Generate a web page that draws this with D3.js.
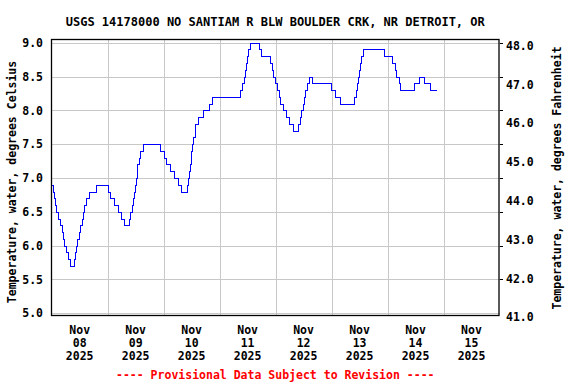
<!DOCTYPE html>
<html>
<head>
<meta charset="utf-8">
<script src="https://cdn.jsdelivr.net/npm/d3@7"></script>
<style>
  html, body { margin: 0; padding: 0; background: #fff; }
  svg { display: block; }
  text { font-family: "DejaVu Sans Mono", "Liberation Mono", monospace; font-weight: bold; }
</style>
</head>
<body>
<svg id="chart" width="576" height="384"></svg>
<script>
// ---- data ----
const titleText = "USGS 14178000 NO SANTIAM R BLW BOULDER CRK, NR DETROIT, OR";
const footerText = "---- Provisional Data Subject to Revision ----";
const leftAxisTitle = "Temperature, water, degrees Celsius";
const rightAxisTitle = "Temperature, water, degrees Fahrenheit";

// times at which the stepped reading changes, and the value held from then on
const obsTime = [
"2025-11-08 00:00","2025-11-08 00:45","2025-11-08 01:15","2025-11-08 01:30","2025-11-08 02:15","2025-11-08 03:00","2025-11-08 03:45","2025-11-08 04:30","2025-11-08 05:00","2025-11-08 05:30","2025-11-08 06:15","2025-11-08 07:00","2025-11-08 08:00","2025-11-08 09:45","2025-11-08 10:00","2025-11-08 10:45","2025-11-08 11:15","2025-11-08 11:45","2025-11-08 12:30","2025-11-08 13:00","2025-11-08 13:30","2025-11-08 14:15","2025-11-08 14:45","2025-11-08 16:00","2025-11-08 19:15",
"2025-11-09 00:15","2025-11-09 01:15","2025-11-09 03:00","2025-11-09 04:30","2025-11-09 05:45","2025-11-09 07:00","2025-11-09 09:15","2025-11-09 10:00","2025-11-09 10:30","2025-11-09 11:00","2025-11-09 11:30","2025-11-09 11:45","2025-11-09 12:15","2025-11-09 12:45","2025-11-09 13:00","2025-11-09 13:30","2025-11-09 14:15","2025-11-09 15:30","2025-11-09 22:45",
"2025-11-10 00:30","2025-11-10 01:15","2025-11-10 03:00","2025-11-10 04:30","2025-11-10 06:15","2025-11-10 07:45","2025-11-10 10:15","2025-11-10 10:45","2025-11-10 11:15","2025-11-10 11:30","2025-11-10 11:45","2025-11-10 12:00","2025-11-10 12:30","2025-11-10 13:00","2025-11-10 13:30","2025-11-10 13:45","2025-11-10 14:45","2025-11-10 17:00","2025-11-10 19:30","2025-11-10 20:45",
"2025-11-11 08:45","2025-11-11 09:45","2025-11-11 10:30","2025-11-11 11:15","2025-11-11 11:30","2025-11-11 12:00","2025-11-11 12:30","2025-11-11 13:15","2025-11-11 17:00","2025-11-11 17:45","2025-11-11 21:45","2025-11-11 22:30","2025-11-11 23:15","2025-11-11 23:45",
"2025-11-12 00:45","2025-11-12 01:30","2025-11-12 02:15","2025-11-12 03:30","2025-11-12 04:30","2025-11-12 05:45","2025-11-12 07:30","2025-11-12 10:00","2025-11-12 10:45","2025-11-12 11:15","2025-11-12 11:45","2025-11-12 12:30","2025-11-12 13:00","2025-11-12 13:45","2025-11-12 14:30","2025-11-12 16:00",
"2025-11-13 00:00","2025-11-13 01:45","2025-11-13 04:00","2025-11-13 10:00","2025-11-13 10:30","2025-11-13 11:00","2025-11-13 11:30","2025-11-13 12:00","2025-11-13 12:30","2025-11-13 12:45","2025-11-13 13:30","2025-11-13 22:30",
"2025-11-14 02:00","2025-11-14 03:15","2025-11-14 04:00","2025-11-14 05:15","2025-11-14 05:45","2025-11-14 11:30","2025-11-14 13:30","2025-11-14 15:45","2025-11-14 18:15","2025-11-14 21:00"
];
const tempC = [
6.9,6.8,6.7,6.6,6.5,6.4,6.3,6.2,6.1,6.0,5.9,5.8,5.7,5.8,5.9,6.0,6.1,6.2,6.3,6.4,6.5,6.6,6.7,6.8,6.9,
6.8,6.7,6.6,6.5,6.4,6.3,6.4,6.5,6.6,6.7,6.8,6.9,7.0,7.1,7.2,7.3,7.4,7.5,7.4,
7.3,7.2,7.1,7.0,6.9,6.8,6.9,7.0,7.1,7.2,7.3,7.4,7.5,7.6,7.7,7.8,7.9,8.0,8.1,8.2,
8.3,8.4,8.5,8.6,8.7,8.8,8.9,9.0,8.9,8.8,8.7,8.6,8.5,8.4,
8.3,8.2,8.1,8.0,7.9,7.8,7.7,7.8,7.9,8.0,8.1,8.2,8.3,8.4,8.5,8.4,
8.3,8.2,8.1,8.2,8.3,8.4,8.5,8.6,8.7,8.8,8.9,8.8,
8.7,8.6,8.5,8.4,8.3,8.4,8.5,8.4,8.3,8.3
];

const leftTicks = [5.0, 5.5, 6.0, 6.5, 7.0, 7.5, 8.0, 8.5, 9.0];
const rightTicks = [41.0, 42.0, 43.0, 44.0, 45.0, 46.0, 47.0, 48.0];
const dayLabels = ["2025-11-08","2025-11-09","2025-11-10","2025-11-11","2025-11-12","2025-11-13","2025-11-14","2025-11-15"];
const xDomain = ["2025-11-08 00:00", "2025-11-16 00:00"];

// ---- layout ----
const plot = { left: 51, right: 499.5, top: 39, bottom: 316 };
const parse = d3.utcParse("%Y-%m-%d %H:%M");
const parseDay = d3.utcParse("%Y-%m-%d");

const x = d3.scaleUtc().domain(xDomain.map(parse)).range([plot.left + 0.7, plot.right]);
const y = d3.scaleLinear().domain([5, 9]).range([313.3, 42.7]);
const yF = d3.scaleLinear().domain([41, 48]).range([317.3, 45.7]);

const svg = d3.select("#chart");
const data = obsTime.map((t, i) => ({ t: parse(t), v: tempC[i] }));

// gridlines
const grid = svg.append("g").attr("stroke", "#c8c8c8").attr("stroke-width", 1).attr("shape-rendering", "crispEdges");
grid.selectAll("line.h").data(leftTicks).join("line")
  .attr("x1", plot.left).attr("x2", plot.right)
  .attr("y1", d => Math.round(y(d)) + 0.5).attr("y2", d => Math.round(y(d)) + 0.5);
const dayLines = d3.utcDay.range(d3.utcDay.offset(x.domain()[0], 1), x.domain()[1]);
grid.selectAll("line.v").data(dayLines).join("line")
  .attr("y1", plot.top).attr("y2", plot.bottom)
  .attr("x1", d => Math.round(x(d)) + 0.5).attr("x2", d => Math.round(x(d)) + 0.5);

// data line
const line = d3.line().x(d => x(d.t)).y(d => Math.round(y(d.v)) + 0.5).curve(d3.curveStepAfter);
svg.append("path").datum(data)
  .attr("d", line).attr("fill", "none").attr("stroke", "#0000ff").attr("stroke-width", 1)
  .attr("shape-rendering", "crispEdges");

// plot border
svg.append("rect")
  .attr("x", plot.left + 0.5).attr("y", plot.top + 0.5)
  .attr("width", plot.right - plot.left - 1).attr("height", plot.bottom - plot.top - 1)
  .attr("fill", "none").attr("stroke", "#000").attr("stroke-width", 1.3);

// left axis
const leftAxis = d3.axisLeft(y).tickValues(leftTicks).tickSize(0).tickPadding(8).tickFormat(d3.format(".1f"));
const gl = svg.append("g").attr("transform", `translate(${plot.left},0)`).call(leftAxis);
gl.select(".domain").remove();
gl.selectAll("text").attr("font-size", "11.5px").attr("fill", "#000")
  .attr("font-family", "DejaVu Sans Mono").attr("font-weight", "bold");

// right axis: small stubs at the gridline positions, Fahrenheit labels
svg.append("g").selectAll("line").data(leftTicks.slice(1)).join("line")
  .attr("x1", plot.right).attr("x2", plot.right + 3)
  .attr("y1", d => Math.round(y(d)) + 0.5).attr("y2", d => Math.round(y(d)) + 0.5)
  .attr("stroke", "#000").attr("shape-rendering", "crispEdges");
const rightAxis = d3.axisRight(yF).tickValues(rightTicks).tickSize(0).tickPadding(6.5).tickFormat(d3.format(".1f"));
const gr = svg.append("g").attr("transform", `translate(${plot.right},0)`).call(rightAxis);
gr.select(".domain").remove();
gr.selectAll("text").attr("font-size", "11.5px").attr("fill", "#000")
  .attr("font-family", "DejaVu Sans Mono").attr("font-weight", "bold");

// x labels (centered at noon of each day)
const fmtMon = d3.utcFormat("%b"), fmtDay = d3.utcFormat("%d"), fmtYear = d3.utcFormat("%Y");
const xl = svg.append("g").attr("font-size", "11.5px").attr("text-anchor", "middle").attr("fill", "#000");
dayLabels.map(parseDay).forEach(d => {
  const cx = x(d3.utcHour.offset(d, 12));
  xl.append("text").attr("x", cx).attr("y", 334).text(fmtMon(d));
  xl.append("text").attr("x", cx).attr("y", 347.3).text(fmtDay(d));
  xl.append("text").attr("x", cx).attr("y", 360).text(fmtYear(d));
});

// title
svg.append("text").attr("x", (plot.left + plot.right) / 2).attr("y", 26)
  .attr("text-anchor", "middle").attr("font-size", "12px").attr("fill", "#000").text(titleText);

// axis titles
svg.append("text").attr("transform", "translate(16,182) rotate(-90)")
  .attr("text-anchor", "middle").attr("font-size", "11.5px").attr("fill", "#000").text(leftAxisTitle);
svg.append("text").attr("transform", "translate(561,178) rotate(-90)")
  .attr("text-anchor", "middle").attr("font-size", "11.5px").attr("fill", "#000").text(rightAxisTitle);

// footer
svg.append("text").attr("x", (plot.left + plot.right) / 2).attr("y", 379)
  .attr("text-anchor", "middle").attr("font-size", "11.5px").attr("fill", "#ff0000").text(footerText);
</script>
</body>
</html>
